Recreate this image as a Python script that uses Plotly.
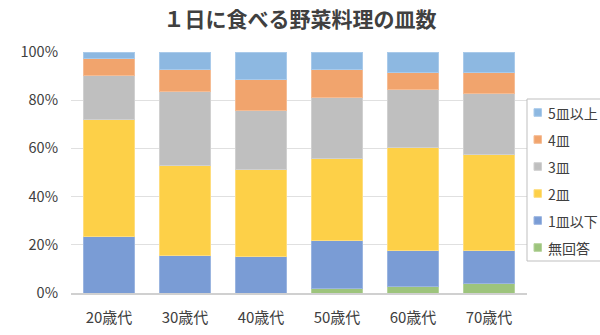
import plotly.graph_objects as go

categories = ["20歳代", "30歳代", "40歳代", "50歳代", "60歳代", "70歳代"]
series_names = ["無回答", "1皿以下", "2皿", "3皿", "4皿", "5皿以上"]
no_answer = [0.0, 0.0, 0.0, 1.8, 2.7, 4.1]
one_or_less = [23.4, 15.5, 15.2, 19.8, 15.0, 13.6]
two = [48.5, 37.5, 36.1, 34.4, 42.6, 39.7]
three = [18.3, 30.7, 24.3, 25.3, 24.2, 25.3]
four = [6.9, 9.2, 13.0, 11.4, 6.8, 8.6]
five_plus = [2.9, 7.1, 11.4, 7.3, 8.7, 8.7]
tick_vals = [0, 20, 40, 60, 80, 100]
tick_text = ["0%", "20%", "40%", "60%", "80%", "100%"]

values = [no_answer, one_or_less, two, three, four, five_plus]
colors = ["#9DC47C", "#7A9CD5", "#FDD048", "#BFBFBF", "#F1A46D", "#8DB8E1"]
borders = ["#B5D39C", "#9BB5E0", "#FEDD7E", "#D0D0D0", "#F5BC94", "#A9CAEA"]

W, H = 600, 335
ML, MR, MT, MB = 71, 73, 52, 42
PW, PH = W - ML - MR, H - MT - MB


def px_x(px):
    return (px - ML) / PW


def px_y(py):
    return (H - MB - py) / PH


fig = go.Figure()
for name, vals, c, bc in zip(series_names, values, colors, borders):
    fig.add_trace(go.Bar(
        x=categories, y=vals, name=name, showlegend=False,
        marker=dict(color=c, line=dict(color=bc, width=1)),
    ))

font_family = "Noto Sans CJK JP, Noto Sans, sans-serif"

# legend drawn as a box with swatches and text (top item = last series)
shapes = [dict(type="rect", xref="paper", yref="paper",
               x0=px_x(527), x1=px_x(640), y0=px_y(261), y1=px_y(99),
               line=dict(color="#BFBFBF", width=1), fillcolor="white", layer="above")]
annotations = []
for k, idx in enumerate(reversed(range(len(series_names)))):
    cy = 112.5 + 27 * k
    shapes.append(dict(type="rect", xref="paper", yref="paper",
                       x0=px_x(534), x1=px_x(541.5), y0=px_y(cy + 3.8), y1=px_y(cy - 3.8),
                       line=dict(color=borders[idx], width=1), fillcolor=colors[idx],
                       layer="above"))
    annotations.append(dict(xref="paper", yref="paper", x=px_x(546), y=px_y(cy),
                            xanchor="left", yanchor="middle", showarrow=False,
                            text=series_names[idx],
                            font=dict(family=font_family, size=14, color="#404040")))

fig.update_layout(
    width=W, height=H,
    barmode="stack", bargap=0.33,
    paper_bgcolor="white", plot_bgcolor="white",
    margin=dict(l=ML, r=MR, t=MT, b=MB, autoexpand=False),
    font=dict(family=font_family, size=15, color="#404040"),
    title=dict(text="<b>１日に食べる野菜料理の皿数</b>", x=0.5, xanchor="center",
               y=0.94, yanchor="middle",
               font=dict(family=font_family, size=21, color="#404040")),
    xaxis=dict(showgrid=False, showline=True, linecolor="#D0D0D0", linewidth=2,
               ticks="", ticklabelstandoff=10,
               tickfont=dict(size=15, color="#404040")),
    yaxis=dict(range=[0, 100], tickvals=tick_vals, ticktext=tick_text,
               showgrid=True, gridcolor="#E0E0E0", gridwidth=1,
               zeroline=False, ticks="", ticklabelstandoff=12,
               tickfont=dict(size=14.5, color="#404040")),
    shapes=shapes,
    annotations=annotations,
    showlegend=False,
)

fig.write_html("out.html")
